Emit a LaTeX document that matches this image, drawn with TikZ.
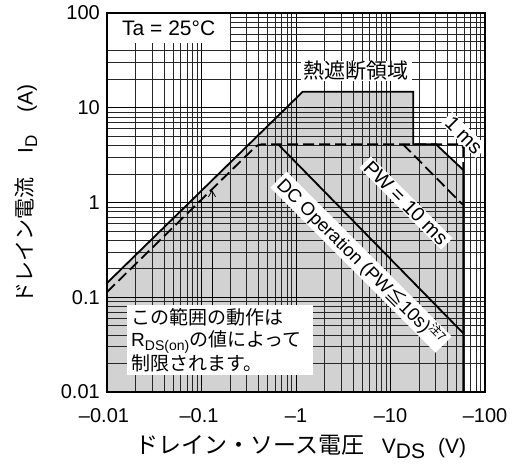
\documentclass[tikz,border=0pt]{standalone}
\usepackage{fontspec}
\setmainfont{Liberation Sans}
\newfontfamily\jp{Noto Sans CJK JP}
\usetikzlibrary{arrows.meta}
\definecolor{soagray}{RGB}{210,210,210}
\begin{document}
\begin{tikzpicture}[x=1pt,y=1pt,
  gridline/.style={line width=0.65pt, black!85},
  decline/.style={line width=0.9pt, black},
  curve/.style={line width=1.8pt, black},
  dcurve/.style={line width=1.8pt, black, dash pattern=on 11pt off 5pt},
  ticklbl/.style={font=\fontsize{20}{24}\selectfont, inner sep=0pt},
  whitelbl/.style={fill=white, inner xsep=3pt, inner ysep=1pt},
  rotlbl/.style={fill=white, rotate=-45, inner xsep=3pt, inner ysep=1pt},
]
\useasboundingbox (0,0) rectangle (516,467);
\begin{scope}[shift={(107pt,75pt)}, x=94.5pt, y=94.75pt]
  % shaded safe operating area
  \fill[soagray] (0,0) -- (0,1.150) -- (2.071,3.169) -- (3.241,3.169) -- (3.241,2.615)
     -- (3.481,2.615) -- (3.770,2.343) -- (3.770,0) -- cycle;
  % log grid
  \foreach \d in {0,1,2,3}{
    \foreach \l in {0.30103,0.47712,0.60206,0.69897,0.77815,0.84510,0.90309,0.95424}{
      \draw[gridline] (\d+\l,0) -- (\d+\l,4);
      \draw[gridline] (0,\d+\l) -- (4,\d+\l);
    }
    \draw[decline] (\d,0) -- (\d,4);
    \draw[decline] (0,\d) -- (4,\d);
  }
  % named coordinates
  \coordinate (s0) at (0,1.150);
  \coordinate (s1) at (2.071,3.169);
  \coordinate (s2) at (3.241,3.169);
  \coordinate (s3) at (3.241,2.615);
  \coordinate (s4) at (3.481,2.615);
  \coordinate (s5) at (3.770,2.343);
  \coordinate (s6) at (3.770,0);
  \coordinate (d0) at (0,1.055);
  \coordinate (d1) at (1.598,2.615);
  \coordinate (d2) at (3.770,2.615);
  \coordinate (p0) at (3.132,2.615);
  \coordinate (p1) at (3.767,1.974);
  \coordinate (c0) at (1.810,2.615);
  \coordinate (c1) at (3.770,0.620);
  \coordinate (tip) at (1.111,2.132);
  % curves
  \draw[curve, line join=miter] (s0) -- (s1) -- (s2) -- (s3) -- (s4) -- (s5) -- (s6);
  \draw[dcurve, rounded corners=4pt] (d0) -- (d1) -- (d2) -- (s5);
  \draw[dcurve] (p0) -- (p1);
  \draw[curve] (c0) -- (c1);
  % Ta box
  \node[fill=white, anchor=north west, minimum width=123pt, minimum height=30pt,
        inner sep=0pt, font=\fontsize{21}{24}\selectfont] (ta) at (0,4) {Ta = 25°C};
\end{scope}
% text box
\node[fill=white, anchor=north west, text width=178pt, align=left, inner xsep=4pt,
      inner ysep=3pt, font=\fontsize{19}{22.5}\selectfont] (rbox) at (127,162)
  {{\jp この範囲の動作は}\\R\raisebox{-4pt}{\fontsize{14}{14}\selectfont DS(on)}{\jp の値によって}\\{\jp 制限されます。}};
\draw[line width=0.8pt, -{Straight Barb[length=6pt,width=7pt]}] (rbox.north -| tip) -- (tip);
% labels on curves
\node[whitelbl, inner ysep=0pt, font=\fontsize{21}{24}\jp] (therm) at (356,396) {熱遮断領域};
\node[rotlbl, font=\fontsize{20}{24}\selectfont] (ms1) at (464,332) {1 ms};
\node[rotlbl, font=\fontsize{20}{24}\selectfont] (ms10) at (406,264) {PW = 10 ms};
\node[rotlbl, font=\fontsize{18.5}{22}\selectfont] (dc) at (361,205)
  {DC Operation (PW{\jp ≦}10s)\raisebox{7pt}{\fontsize{12}{12}\jp 注7}};
% frame
\draw[line width=2.4pt] (107,75) rectangle (485,454);
% tick labels
\node[ticklbl, anchor=east] (y100) at (100,454) {100};
\node[ticklbl, anchor=east] (y10) at (100,359.25) {10};
\node[ticklbl, anchor=east] (y1) at (100,264.5) {1};
\node[ticklbl, anchor=east] (y01) at (100,169.75) {0.1};
\node[ticklbl, anchor=east] (y001) at (100,75) {0.01};
\node[ticklbl] (x001) at (104,51) {–0.01};
\node[ticklbl] (x01) at (199,51) {–0.1};
\node[ticklbl] (x1) at (296,51) {–1};
\node[ticklbl] (x10) at (390.5,51) {–10};
\node[ticklbl] (x100) at (485,51) {–100};
% axis titles
\node[font=\fontsize{21}{24}\selectfont, inner sep=0pt] (xtitle) at (301,20)
  {{\fontsize{23}{24}\jp ドレイン・ソース電圧}\hspace{17pt}V\raisebox{-5pt}{DS}\hspace{13pt}(V)};
\node[font=\fontsize{21}{24}\selectfont, inner sep=0pt, rotate=90] (ytitle) at (26,273)
  {{\fontsize{21}{24}\jp ドレイン電流}\hspace{24pt}I\raisebox{-4.5pt}{\fontsize{17}{17}\selectfont D}\hspace{22pt}(A)};
\end{tikzpicture}
\end{document}
